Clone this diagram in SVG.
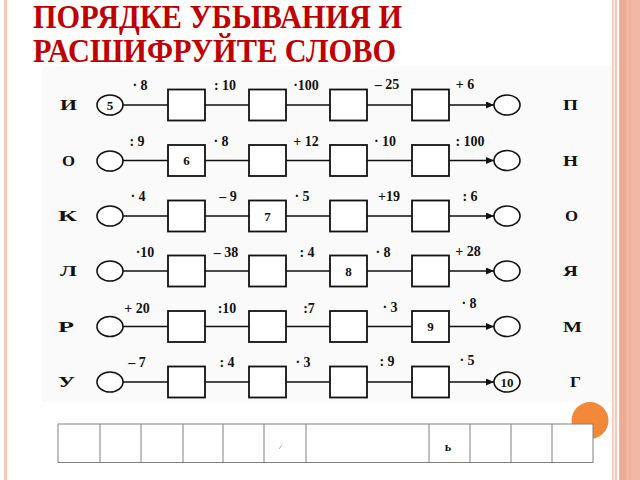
<svg xmlns="http://www.w3.org/2000/svg" width="640" height="480" viewBox="0 0 640 480">
<style>
.title{font-family:"Liberation Serif","DejaVu Serif",serif;font-weight:bold;font-size:33px;fill:#C00000}
.lt{font-family:"Liberation Serif","DejaVu Serif",serif;font-weight:bold;font-size:15px;fill:#111}
.op{font-family:"Liberation Serif","DejaVu Serif",serif;font-weight:bold;font-size:14px;fill:#111;text-anchor:middle}
.num{font-family:"Liberation Serif","DejaVu Serif",serif;font-weight:bold;font-size:13px;fill:#111;text-anchor:middle}
.box{fill:#fff;stroke:#111;stroke-width:1.8}
.ov{fill:#fff;stroke:#111;stroke-width:1.6}
.con{stroke:#111;stroke-width:1.3;fill:none;marker-end:url(#ah)}
.cell{fill:none;stroke:#808080;stroke-width:1}
</style>
<defs>
<marker id="ah" markerUnits="userSpaceOnUse" markerWidth="9" markerHeight="8" refX="8" refY="3.5" orient="auto">
<path d="M0,0 L8,3.5 L0,7 z" fill="#111"/>
</marker>
</defs>
<rect x="0" y="0" width="640" height="480" fill="#fff"/>
<rect x="42" y="66" width="570" height="336" fill="#fafafa"/>
<rect x="4" y="0" width="3" height="480" fill="#f7c6b4"/>
<rect x="612" y="0" width="5" height="480" fill="#f6cbbc"/>
<rect x="613.5" y="0" width="1.5" height="480" fill="#fde9e2"/>
<rect x="619" y="0" width="21" height="480" fill="#f2b8a4"/>
<rect x="620" y="0" width="6" height="480" fill="#eeab94"/>
<rect x="629" y="0" width="2" height="480" fill="#efb09b"/>
<text class="title" x="33" y="28" textLength="369" lengthAdjust="spacingAndGlyphs">ПОРЯДКЕ УБЫВАНИЯ И</text>
<text class="title" x="33" y="62" textLength="363" lengthAdjust="spacingAndGlyphs">РАСШИФРУЙТЕ СЛОВО</text>

<g id="row1">
<text class="lt" x="60" y="110" textLength="17" lengthAdjust="spacingAndGlyphs">И</text>
<ellipse class="ov" cx="110" cy="105" rx="13" ry="10"/><text class="num" x="110" y="109.5">5</text>
<rect class="box" x="168" y="89.5" width="37" height="31"/>
<rect class="box" x="249" y="89.5" width="37" height="31"/>
<rect class="box" x="330" y="89.5" width="37" height="31"/>
<rect class="box" x="412" y="89.5" width="37" height="31"/>
<ellipse class="ov" cx="507" cy="105" rx="13" ry="10"/>
<text class="lt" x="563" y="110" textLength="15" lengthAdjust="spacingAndGlyphs">П</text>
</g>
<g id="row2">
<text class="lt" x="62" y="165.5" textLength="13" lengthAdjust="spacingAndGlyphs">О</text>
<ellipse class="ov" cx="110" cy="161" rx="13" ry="10"/>
<rect class="box" x="168" y="145" width="37" height="31"/><text class="num" x="186.5" y="165">6</text>
<rect class="box" x="249" y="145" width="37" height="31"/>
<rect class="box" x="330" y="145" width="37" height="31"/>
<rect class="box" x="412" y="145" width="37" height="31"/>
<ellipse class="ov" cx="507" cy="160.5" rx="13" ry="10"/>
<text class="lt" x="563" y="165.5" textLength="15" lengthAdjust="spacingAndGlyphs">Н</text>
</g>
<g id="row3">
<text class="lt" x="58" y="221" textLength="19" lengthAdjust="spacingAndGlyphs">К</text>
<ellipse class="ov" cx="110" cy="216" rx="13" ry="10"/>
<rect class="box" x="168" y="200.5" width="37" height="31"/>
<rect class="box" x="249" y="200.5" width="37" height="31"/><text class="num" x="267.5" y="220.5">7</text>
<rect class="box" x="330" y="200.5" width="37" height="31"/>
<rect class="box" x="412" y="200.5" width="37" height="31"/>
<ellipse class="ov" cx="507" cy="216" rx="13" ry="10"/>
<text class="lt" x="565" y="221" textLength="13" lengthAdjust="spacingAndGlyphs">О</text>
</g>
<g id="row4">
<text class="lt" x="60" y="276" textLength="17" lengthAdjust="spacingAndGlyphs">Л</text>
<ellipse class="ov" cx="110" cy="271" rx="13" ry="10"/>
<rect class="box" x="168" y="255.5" width="37" height="31"/>
<rect class="box" x="249" y="255.5" width="37" height="31"/>
<rect class="box" x="330" y="255.5" width="37" height="31"/><text class="num" x="348.5" y="275.5">8</text>
<rect class="box" x="412" y="255.5" width="37" height="31"/>
<ellipse class="ov" cx="507" cy="271" rx="13" ry="10"/>
<text class="lt" x="563" y="276" textLength="15" lengthAdjust="spacingAndGlyphs">Я</text>
</g>
<g id="row5">
<text class="lt" x="58" y="331.5" textLength="16" lengthAdjust="spacingAndGlyphs">Р</text>
<ellipse class="ov" cx="110" cy="326.5" rx="13" ry="10"/>
<rect class="box" x="168" y="311" width="37" height="31"/>
<rect class="box" x="249" y="311" width="37" height="31"/>
<rect class="box" x="330" y="311" width="37" height="31"/>
<rect class="box" x="412" y="311" width="37" height="31"/><text class="num" x="430.5" y="331">9</text>
<ellipse class="ov" cx="507" cy="326.5" rx="13" ry="10"/>
<text class="lt" x="563" y="331.5" textLength="19" lengthAdjust="spacingAndGlyphs">М</text>
</g>
<g id="row6">
<text class="lt" x="58" y="387" textLength="17" lengthAdjust="spacingAndGlyphs">У</text>
<ellipse class="ov" cx="110" cy="382" rx="13" ry="10"/>
<rect class="box" x="168" y="366.5" width="37" height="31"/>
<rect class="box" x="249" y="366.5" width="37" height="31"/>
<rect class="box" x="330" y="366.5" width="37" height="31"/>
<rect class="box" x="412" y="366.5" width="37" height="31"/>
<ellipse class="ov" cx="507" cy="382" rx="13" ry="10"/><text class="num" x="507" y="386.5">10</text>
<text class="lt" x="570" y="387" textLength="11" lengthAdjust="spacingAndGlyphs">Г</text>
</g>

<g id="connectors">
<path class="con" d="M123,105 H168 M205,105 H249 M286,105 H330 M367,105 H412 M449,105 H494"/>
<path class="con" d="M123,160.5 H168 M205,160.5 H249 M286,160.5 H330 M367,160.5 H412 M449,160.5 H494"/>
<path class="con" d="M123,216 H168 M205,216 H249 M286,216 H330 M367,216 H412 M449,216 H494"/>
<path class="con" d="M123,271 H168 M205,271 H249 M286,271 H330 M367,271 H412 M449,271 H494"/>
<path class="con" d="M123,326.5 H168 M205,326.5 H249 M286,326.5 H330 M367,326.5 H412 M449,326.5 H494"/>
<path class="con" d="M123,382 H168 M205,382 H249 M286,382 H330 M367,382 H412 M449,382 H494"/>
</g>

<g id="labels">
<text class="op" x="140" y="90">· 8</text>
<text class="op" x="225" y="90">: 10</text>
<text class="op" x="306" y="90">·100</text>
<text class="op" x="387" y="89">– 25</text>
<text class="op" x="465" y="89">+ 6</text>

<text class="op" x="137" y="146">: 9</text>
<text class="op" x="221" y="146">· 8</text>
<text class="op" x="306" y="146">+ 12</text>
<text class="op" x="385" y="146">· 10</text>
<text class="op" x="470" y="146">: 100</text>

<text class="op" x="138" y="201">· 4</text>
<text class="op" x="228" y="201">– 9</text>
<text class="op" x="302" y="201">· 5</text>
<text class="op" x="389" y="201">+19</text>
<text class="op" x="470" y="201">: 6</text>

<text class="op" x="145" y="257">·10</text>
<text class="op" x="226" y="257">– 38</text>
<text class="op" x="307" y="257">: 4</text>
<text class="op" x="383" y="257">· 8</text>
<text class="op" x="468" y="256">+ 28</text>

<text class="op" x="137" y="313">+ 20</text>
<text class="op" x="227" y="313">:10</text>
<text class="op" x="309" y="313">:7</text>
<text class="op" x="390" y="312">· 3</text>
<text class="op" x="469" y="308">· 8</text>

<text class="op" x="137" y="367">– 7</text>
<text class="op" x="227" y="367">: 4</text>
<text class="op" x="303" y="367">· 3</text>
<text class="op" x="387" y="366">: 9</text>
<text class="op" x="467" y="365">· 5</text>
</g>

<circle cx="590" cy="420.5" r="18.5" fill="#f4883a"/>
<g id="answer-table">
<rect x="58" y="424" width="535" height="38.5" fill="#fff" stroke="#808080" stroke-width="1"/>
<path class="cell" d="M100,424 V462.5 M141,424 V462.5 M183,424 V462.5 M223,424 V462.5 M264,424 V462.5 M306,424 V462.5 M429,424 V462.5 M470,424 V462.5 M511,424 V462.5 M552,424 V462.5"/>
<line x1="279" y1="449" x2="282" y2="445" stroke="#b0b0b0" stroke-width="1"/>
<text class="num" x="448" y="451" style="font-size:12px">ь</text>
</g>
</svg>
